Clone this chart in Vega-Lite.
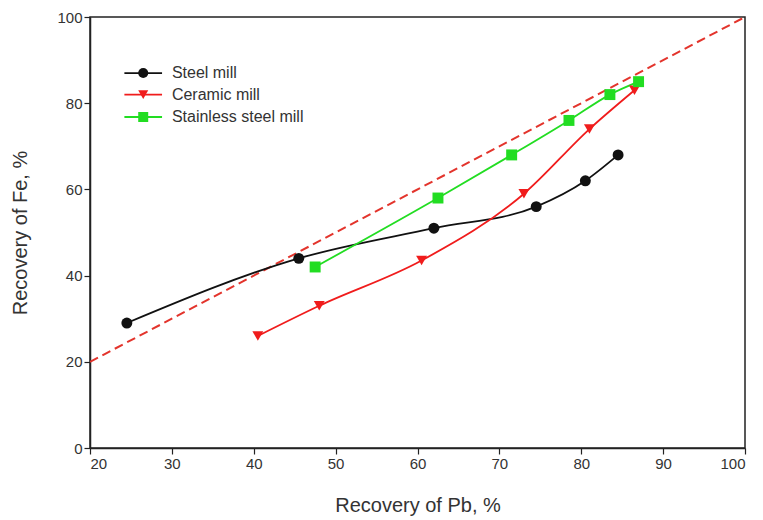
{
  "$schema": "https://vega.github.io/schema/vega-lite/v6.json",
  "autosize": "none",
  "width": 655,
  "height": 431,
  "padding": {"left": 90, "top": 17, "right": 18, "bottom": 72},
  "background": "white",
  "config": {
    "view": {"stroke": "#222", "strokeWidth": 1.5},
    "font": "Liberation Sans",
    "axis": {
      "grid": false, "domainColor": "#222", "domainWidth": 1.5, "tickColor": "#222", "tickWidth": 1.2, "tickSize": 6,
      "labelFont": "Liberation Sans", "labelFontSize": 15, "labelColor": "#333",
      "titleFont": "Liberation Sans", "titleFontSize": 20, "titleFontWeight": "normal", "titleColor": "#333"
    }
  },
  "datasets": {
    "series": [
      {"series": "Steel mill", "pb": 24.5, "fe": 29},
      {"series": "Steel mill", "pb": 45.5, "fe": 44},
      {"series": "Steel mill", "pb": 62, "fe": 51},
      {"series": "Steel mill", "pb": 74.5, "fe": 56},
      {"series": "Steel mill", "pb": 80.5, "fe": 62},
      {"series": "Steel mill", "pb": 84.5, "fe": 68},
      {"series": "Ceramic mill", "pb": 40.5, "fe": 26},
      {"series": "Ceramic mill", "pb": 48, "fe": 33},
      {"series": "Ceramic mill", "pb": 60.5, "fe": 43.5},
      {"series": "Ceramic mill", "pb": 73, "fe": 59},
      {"series": "Ceramic mill", "pb": 81, "fe": 74},
      {"series": "Ceramic mill", "pb": 86.5, "fe": 83},
      {"series": "Stainless steel mill", "pb": 47.5, "fe": 42},
      {"series": "Stainless steel mill", "pb": 62.5, "fe": 58},
      {"series": "Stainless steel mill", "pb": 71.5, "fe": 68},
      {"series": "Stainless steel mill", "pb": 78.5, "fe": 76},
      {"series": "Stainless steel mill", "pb": 83.5, "fe": 82},
      {"series": "Stainless steel mill", "pb": 87, "fe": 85}
    ],
    "diag": [{"pb": 20, "fe": 20}, {"pb": 100, "fe": 100}],
    "legend": [
      {"series": "Steel mill", "x1": 24.2, "x2": 28.8, "xm": 26.5, "xt": 30, "y": 87},
      {"series": "Ceramic mill", "x1": 24.2, "x2": 28.8, "xm": 26.5, "xt": 30, "y": 82},
      {"series": "Stainless steel mill", "x1": 24.2, "x2": 28.8, "xm": 26.5, "xt": 30, "y": 76.8}
    ]
  },
  "layer": [
    {
      "data": {"name": "diag"},
      "mark": {"type": "line", "color": "#e3342c", "strokeWidth": 2, "strokeDash": [9, 5], "clip": true},
      "encoding": {
        "x": {"field": "pb", "type": "quantitative", "scale": {"domain": [20, 100]}, "axis": {"values": [20,30,40,50,60,70,80,90,100], "title": "Recovery of Pb, %", "titlePadding": 24}},
        "y": {"field": "fe", "type": "quantitative", "scale": {"domain": [0, 100]}, "axis": {"values": [0,20,40,60,80,100], "title": "Recovery of Fe, %", "titlePadding": 26}}
      }
    },
    {
      "data": {"name": "series"},
      "mark": {"type": "line", "interpolate": "monotone", "strokeWidth": 1.8},
      "encoding": {
        "x": {"field": "pb", "type": "quantitative"},
        "y": {"field": "fe", "type": "quantitative"},
        "color": {"field": "series", "type": "nominal", "legend": null, "scale": {"domain": ["Steel mill", "Ceramic mill", "Stainless steel mill"], "range": ["#111111", "#f01c1c", "#22dd22"]}},
        "detail": {"field": "series"}
      }
    },
    {
      "data": {"name": "series"},
      "mark": {"type": "point", "filled": true, "opacity": 1},
      "encoding": {
        "x": {"field": "pb", "type": "quantitative"},
        "y": {"field": "fe", "type": "quantitative"},
        "color": {"field": "series", "type": "nominal", "legend": null},
        "shape": {"field": "series", "type": "nominal", "legend": null, "scale": {"domain": ["Steel mill", "Ceramic mill", "Stainless steel mill"], "range": ["circle", "triangle-down", "square"]}},
        "size": {"value": 120}
      }
    },
    {
      "data": {"name": "legend"},
      "mark": {"type": "rule", "strokeWidth": 1.8},
      "encoding": {
        "x": {"field": "x1", "type": "quantitative"},
        "x2": {"field": "x2"},
        "y": {"field": "y", "type": "quantitative"},
        "color": {"field": "series", "type": "nominal", "legend": null}
      }
    },
    {
      "data": {"name": "legend"},
      "mark": {"type": "point", "filled": true, "opacity": 1},
      "encoding": {
        "x": {"field": "xm", "type": "quantitative"},
        "y": {"field": "y", "type": "quantitative"},
        "color": {"field": "series", "type": "nominal", "legend": null},
        "shape": {"field": "series", "type": "nominal", "legend": null},
        "size": {"value": 100}
      }
    },
    {
      "data": {"name": "legend"},
      "mark": {"type": "text", "align": "left", "baseline": "middle", "fontSize": 16, "color": "#333"},
      "encoding": {
        "x": {"field": "xt", "type": "quantitative"},
        "y": {"field": "y", "type": "quantitative"},
        "text": {"field": "series"}
      }
    }
  ]
}
